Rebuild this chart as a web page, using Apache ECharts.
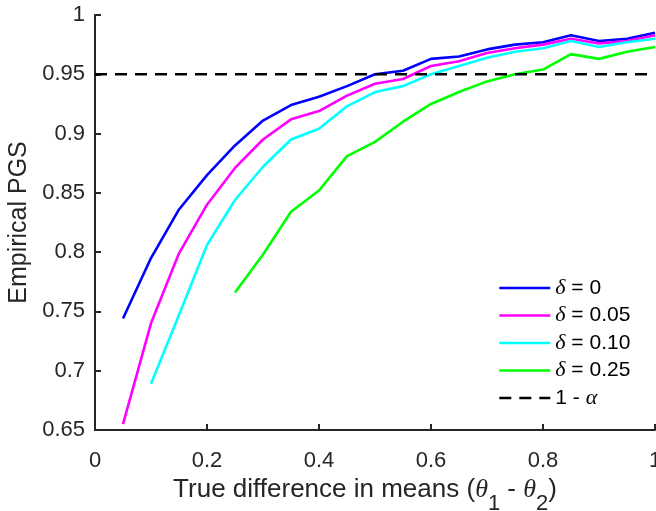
<!DOCTYPE html>
<html>
<head>
<meta charset="utf-8">
<script src="https://cdn.jsdelivr.net/npm/echarts@6/dist/echarts.min.js"></script>
<style>
html,body{margin:0;padding:0;background:#fff;}
#chart{width:656px;height:511px;}
</style>
</head>
<body>
<div id="chart"></div>
<script>
// Data
var xValues = [0.05,0.10,0.15,0.20,0.25,0.30,0.35,0.40,0.45,0.50,0.55,0.60,0.65,0.70,0.75,0.80,0.85,0.90,0.95,1.00];
var delta0   = [0.744,0.795,0.836,0.865,0.890,0.911,0.924,0.931,0.940,0.950,0.953,0.963,0.965,0.971,0.975,0.977,0.983,0.978,0.980,0.985];
var delta005 = [0.655,0.740,0.799,0.840,0.871,0.895,0.912,0.919,0.932,0.942,0.946,0.957,0.961,0.968,0.972,0.975,0.980,0.976,0.978,0.983];
var delta010 = [null,0.689,0.747,0.806,0.844,0.872,0.895,0.904,0.923,0.935,0.940,0.950,0.957,0.964,0.969,0.972,0.978,0.973,0.977,0.980];
var delta025 = [null,null,null,null,0.766,0.798,0.834,0.852,0.881,0.893,0.910,0.925,0.935,0.944,0.950,0.954,0.967,0.963,0.969,0.973];
var alphaLevel = 0.95;
var alphaX = [0, 1];
var seriesNames = ['δ = 0','δ = 0.05','δ = 0.10','δ = 0.25','1 - α'];
var xTicks = {min:0, max:1, interval:0.2};
var yTicks = {min:0.65, max:1, interval:0.05};

function pairs(ys){
  var out = [];
  for (var i=0;i<xValues.length;i++){ if (ys[i]!==null) out.push([xValues[i], ys[i]]); }
  return out;
}

var chart = echarts.init(document.getElementById('chart'), null, {renderer:'canvas'});
var FONT = 'Liberation Sans';
var GREEK = 'Liberation Serif';
var axisColor = '#262626';

function lineSeries(name, data, color){
  return {
    name:name, type:'line', data:data, symbol:'none', showSymbol:false,
    lineStyle:{color:color, width:2.6}, itemStyle:{color:color},
    silent:true, animation:false, z:3
  };
}

var option = {
  backgroundColor:'#fff',
  animation:false,
  grid:{left:95, right:1, top:15, bottom:81, containLabel:false, outerBoundsMode:'none'},
  xAxis:{
    type:'value', min:xTicks.min, max:xTicks.max, interval:xTicks.interval,
    axisLine:{show:true, onZero:false, lineStyle:{color:axisColor, width:2}},
    axisTick:{show:true, inside:true, length:6, lineStyle:{color:axisColor, width:2}},
    splitLine:{show:false},
    axisLabel:{color:axisColor, fontFamily:FONT, fontSize:22, margin:20,
      formatter:function(v){ return String(+v.toFixed(2)); }},
    name:'True difference in means ({g|θ}{s|1} - {g|θ}{s|2})',
    nameLocation:'middle', nameGap:28,
    nameTextStyle:{color:axisColor, fontFamily:FONT, fontSize:26, padding:[0,20,0,0],
      rich:{
        g:{fontFamily:GREEK, fontStyle:'italic', fontSize:26, color:axisColor},
        s:{fontFamily:FONT, fontSize:22, color:axisColor, padding:[28,0,0,0]}
      }}
  },
  yAxis:{
    type:'value', min:yTicks.min, max:yTicks.max, interval:yTicks.interval,
    axisLine:{show:true, onZero:false, lineStyle:{color:axisColor, width:2}},
    axisTick:{show:true, inside:true, length:6, lineStyle:{color:axisColor, width:2}},
    splitLine:{show:false},
    axisLabel:{color:axisColor, fontFamily:FONT, fontSize:22, margin:10,
      formatter:function(v){ return String(+v.toFixed(2)); }},
    name:'Empirical PGS', nameLocation:'middle', nameGap:61,
    nameTextStyle:{color:axisColor, fontFamily:FONT, fontSize:25}
  },
  legend:{
    orient:'vertical', left:493, top:272,
    itemWidth:51, itemHeight:14, itemGap:5.5,
    data:seriesNames,
    itemStyle:{opacity:0},
    lineStyle:{width:2.6},
    textStyle:{color:'#000', fontFamily:FONT, fontSize:21, lineHeight:20,
      rich:{g:{fontFamily:GREEK, fontStyle:'italic', fontSize:22, color:'#000'}}},
    formatter:function(n){ return n.replace('δ','{g|δ}').replace('α','{g|α}'); }
  },
  series:[
    lineSeries(seriesNames[0], pairs(delta0), '#0000ff'),
    lineSeries(seriesNames[1], pairs(delta005), '#ff00ff'),
    lineSeries(seriesNames[2], pairs(delta010), '#00ffff'),
    lineSeries(seriesNames[3], pairs(delta025), '#00ff00'),
    {
      name:seriesNames[4], type:'line', symbol:'none', showSymbol:false,
      data:[[alphaX[0], alphaLevel],[alphaX[1], alphaLevel]],
      lineStyle:{color:'#000', width:2.6, type:[12,8]}, itemStyle:{color:'#000'},
      silent:true, animation:false, z:4
    }
  ]
};
chart.setOption(option);
</script>
</body>
</html>
